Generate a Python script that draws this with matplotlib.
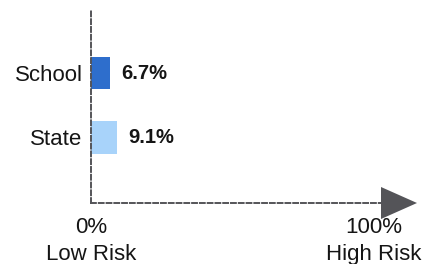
import matplotlib.pyplot as plt
from matplotlib.patches import Polygon

groups = ['School', 'State']
risk = [6.7, 9.1]
bar_colors = ['#2e6ecc', '#a8d3fa']
end_labels = ['0%\nLow Risk', '100%\nHigh Risk']

plt.rcParams['font.family'] = ['Liberation Sans', 'DejaVu Sans']
ink = '#151515'
axis_grey = '#545458'

fig = plt.figure(figsize=(4.27, 2.64), dpi=100)
W, H = 427, 264
# axes box in pixels: left 91, right 381, top 10, bottom 203
ax = fig.add_axes([91 / W, (H - 203) / H, (381 - 91) / W, (203 - 10) / H])

px = 283 / 100.0  # pixels per percent (0% at 91px, 100% at 374px)
ax.set_xlim(0, 290 / px)
ax.set_ylim(2.016, -0.977)

ypos = list(range(len(groups)))
bars = ax.barh(ypos, risk, height=0.5, color=bar_colors)
for b, v in zip(bars, risk):
    ax.annotate(f'{v}%', (b.get_width(), b.get_y() + b.get_height() / 2),
                xytext=(8, 0), textcoords='offset points', va='center',
                ha='left', fontsize=14.5, fontweight='bold', color=ink)

ax.set_yticks(ypos)
ax.set_yticklabels(groups, fontsize=16, color=ink)
ax.set_xticks([0, 100])
ax.set_xticklabels(end_labels, fontsize=16, color=ink, linespacing=1.4)
ax.tick_params(length=0)
ax.tick_params(axis='y', pad=6)
ax.tick_params(axis='x', pad=10)

for s in ['top', 'right']:
    ax.spines[s].set_visible(False)
for s in ['left', 'bottom']:
    ax.spines[s].set_color(axis_grey)
    ax.spines[s].set_linewidth(1.4)
    ax.spines[s].set_linestyle((0, (2.5, 1.5)))

# arrowhead at the end of the x axis
x0 = ax.get_xlim()[1]
tip = x0 + 36 / px
hh = 16 / 193
arrow = Polygon([(x0, -hh), (tip, 0), (x0, hh)], closed=True,
                facecolor=axis_grey, edgecolor='none', clip_on=False,
                transform=ax.get_xaxis_transform(), zorder=3)
ax.add_patch(arrow)

fig.savefig('out.png', dpi=100)
